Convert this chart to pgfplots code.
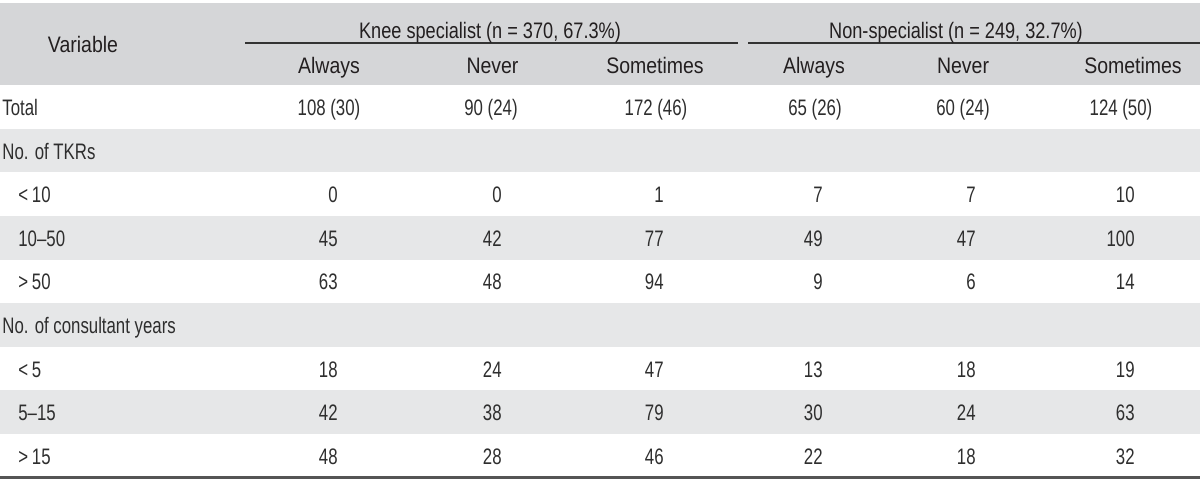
\documentclass[border=0pt]{standalone}
\usepackage{pgfplots}
\pgfplotsset{compat=1.18}
\usepackage{pgfplotstable}
\usepackage{fontspec}
\setmainfont{Liberation Sans}
\newfontfamily\hdrfont[FakeStretch=0.87]{Liberation Sans}
\newfontfamily\grpfont[FakeStretch=0.81]{Liberation Sans}
\newfontfamily\bodyfont[FakeStretch=0.75]{Liberation Sans}
\definecolor{hdrgray}{HTML}{D5D6D8}
\definecolor{rowgray}{HTML}{E6E7E8}
\definecolor{htxt}{HTML}{231F20}
\definecolor{btxt}{HTML}{2E2E2E}
\definecolor{rulec}{HTML}{333333}
\definecolor{botrule}{HTML}{555555}

\pgfplotstableread[col sep=semicolon]{
x;y;label
490;38;Knee specialist (n = 370, 67.3\%)
956;38;Non-specialist (n = 249, 32.7\%)
}\grouptable

\pgfplotstableread[col sep=semicolon]{
x;y;label
83;52;Variable
329;73;Always
492.5;73;Never
655;73;Sometimes
814;73;Always
963;73;Never
1133;73;Sometimes
}\headtable

\pgfplotstableread[col sep=semicolon]{
x;r;label
2;0;Total
2;1;No. of TKRs
18;2;<\,10
18;3;10–50
18;4;>\,50
2;5;No. of consultant years
18;6;<\,5
18;7;5–15
18;8;>\,15
}\rowtable

\pgfplotstableread[col sep=semicolon]{
x;label
329;108 (30)
491;90 (24)
656;172 (46)
815;65 (26)
963;60 (24)
1121;124 (50)
}\totaltable

\pgfplotstableread{
r ka kn ks na nn ns
2 0 0 1 7 7 10
3 45 42 77 49 47 100
4 63 48 94 9 6 14
6 18 24 47 13 18 19
7 42 38 79 30 24 63
8 48 28 46 22 18 32
}\numtable

\tikzset{
  hfont/.style={font=\hdrfont\fontsize{11.2bp}{13bp}\selectfont},
  gfont/.style={font=\grpfont\fontsize{11.2bp}{13bp}\selectfont},
  bfont/.style={font=\bodyfont\fontsize{11.2bp}{13bp}\selectfont},
}
\pgfplotsset{
  txtplot/.style={draw=none, mark=none, nodes near coords, point meta=explicit symbolic},
}

\begin{document}
\begin{tikzpicture}
\begin{axis}[scale only axis, width=600bp, height=240bp,
  xmin=0, xmax=1200, ymin=0, ymax=480, y dir=reverse,
  hide axis, clip=false, no markers]
% backgrounds
\addplot[draw=none, fill=hdrgray] coordinates {(0,2.5) (1200,2.5) (1200,85) (0,85)} -- cycle;
\addplot[draw=none, fill=rowgray] coordinates {(0,128.8) (1200,128.8) (1200,172.4) (0,172.4)} -- cycle;
\addplot[draw=none, fill=rowgray] coordinates {(0,216) (1200,216) (1200,259.6) (0,259.6)} -- cycle;
\addplot[draw=none, fill=rowgray] coordinates {(0,303.2) (1200,303.2) (1200,346.8) (0,346.8)} -- cycle;
\addplot[draw=none, fill=rowgray] coordinates {(0,390.4) (1200,390.4) (1200,434) (0,434)} -- cycle;
% rules
\addplot[rulec, line width=0.75bp] coordinates {(245,43) (738,43)};
\addplot[rulec, line width=0.75bp] coordinates {(748,43) (1200,43)};
\addplot[botrule, line width=1.2bp] coordinates {(0,477.5) (1200,477.5)};
% header text
\addplot[txtplot, every node near coord/.append style={anchor=base, inner sep=0pt, text=htxt, gfont}]
  table[x=x, y=y, meta=label] {\grouptable};
\addplot[txtplot, every node near coord/.append style={anchor=base, inner sep=0pt, text=htxt, hfont}]
  table[x=x, y=y, meta=label] {\headtable};
% row labels
\addplot[txtplot, every node near coord/.append style={anchor=base west, inner sep=0pt, text=btxt, bfont}]
  table[x=x, y expr=107+43.6*\thisrow{r}+8.5, meta=label] {\rowtable};
% total row
\addplot[txtplot, every node near coord/.append style={anchor=base, inner sep=0pt, text=btxt, bfont}]
  table[x=x, y expr=115.5, meta=label] {\totaltable};
% numbers
\addplot[txtplot, every node near coord/.append style={anchor=base east, inner sep=0pt, text=btxt, bfont}]
  table[x expr=338, y expr=107+43.6*\thisrow{r}+8.5, meta=ka] {\numtable};
\addplot[txtplot, every node near coord/.append style={anchor=base east, inner sep=0pt, text=btxt, bfont}]
  table[x expr=502, y expr=107+43.6*\thisrow{r}+8.5, meta=kn] {\numtable};
\addplot[txtplot, every node near coord/.append style={anchor=base east, inner sep=0pt, text=btxt, bfont}]
  table[x expr=664, y expr=107+43.6*\thisrow{r}+8.5, meta=ks] {\numtable};
\addplot[txtplot, every node near coord/.append style={anchor=base east, inner sep=0pt, text=btxt, bfont}]
  table[x expr=823, y expr=107+43.6*\thisrow{r}+8.5, meta=na] {\numtable};
\addplot[txtplot, every node near coord/.append style={anchor=base east, inner sep=0pt, text=btxt, bfont}]
  table[x expr=976, y expr=107+43.6*\thisrow{r}+8.5, meta=nn] {\numtable};
\addplot[txtplot, every node near coord/.append style={anchor=base east, inner sep=0pt, text=btxt, bfont}]
  table[x expr=1135, y expr=107+43.6*\thisrow{r}+8.5, meta=ns] {\numtable};
\end{axis}
\pgfresetboundingbox
\useasboundingbox (0,0) rectangle (600bp,240bp);
\end{tikzpicture}
\end{document}
